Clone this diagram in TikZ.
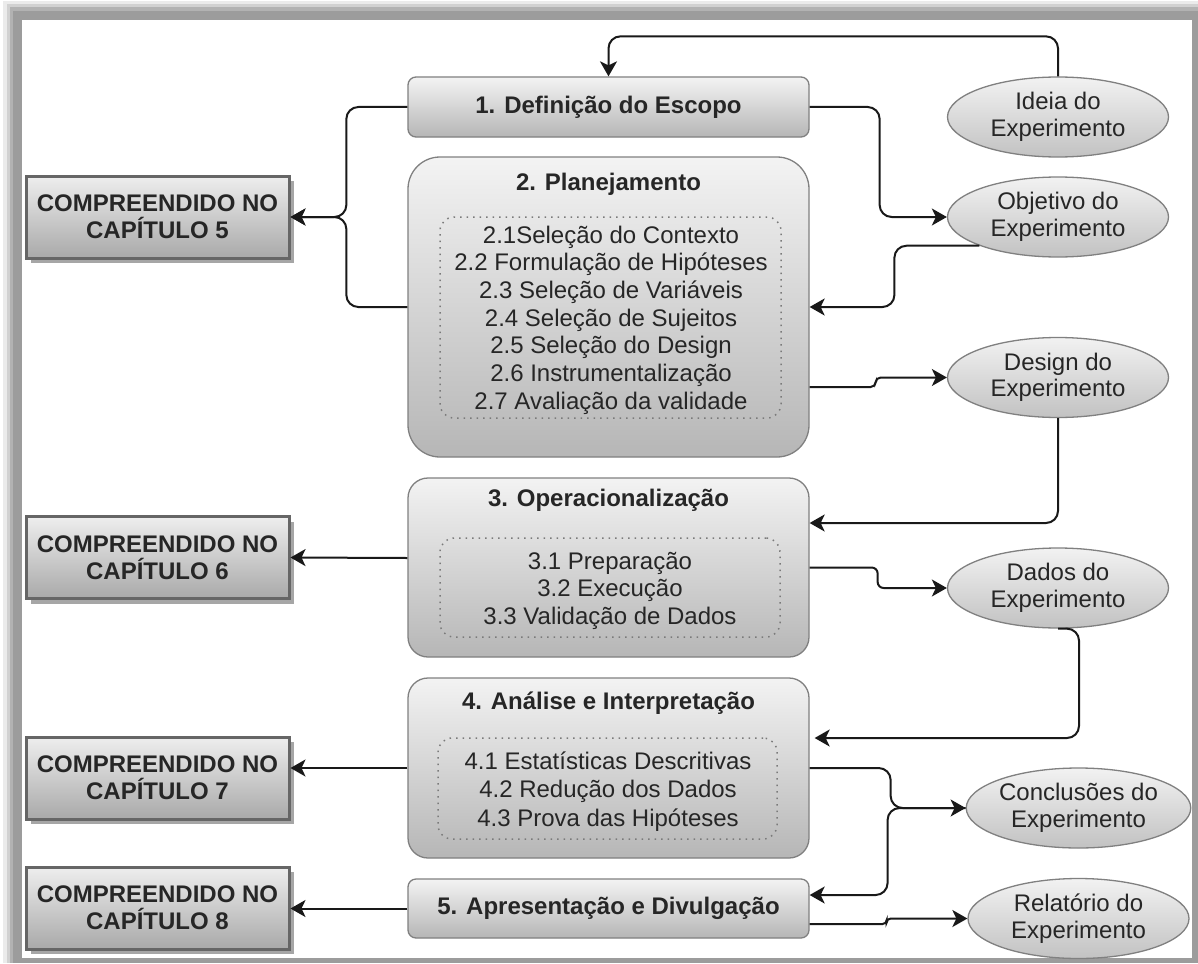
\documentclass[tikz,border=0pt]{standalone}
\usepackage{fontspec}
\setmainfont{Liberation Sans}
\usetikzlibrary{calc,arrows.meta,shapes.geometric,shadows}
\definecolor{ink}{HTML}{262626}
\definecolor{boxtop}{HTML}{F3F3F3}
\definecolor{boxbot}{HTML}{B6B6B6}
\definecolor{boxline}{HTML}{808080}
\definecolor{dotline}{HTML}{7A7A7A}
\definecolor{chaptop}{HTML}{EEEEEE}
\definecolor{chapbot}{HTML}{A9A9A9}
\definecolor{chapline}{HTML}{666666}
\definecolor{ovtop}{HTML}{F2F2F2}
\definecolor{ovbot}{HTML}{C2C2C2}
\definecolor{framegray}{HTML}{9C9C9C}
\begin{document}
\begin{tikzpicture}[x=1pt,y=1pt,
  txt/.style={font=\fontsize{24}{27.7}\selectfont, text=ink},
  ttl/.style={font=\fontsize{24}{27.7}\selectfont\bfseries, text=ink},
  stage/.style={rectangle, draw=boxline, line width=1.3pt, top color=boxtop,
    bottom color=boxbot, minimum width=401pt, inner sep=0pt},
  inner/.style={rectangle, draw=dotline, line width=1.5pt,
    dash pattern=on 1.5pt off 5pt, rounded corners=14pt, inner sep=0pt},
  chap/.style={rectangle, draw=chapline, line width=3pt, top color=chaptop,
    bottom color=chapbot, minimum width=263pt, minimum height=82pt,
    inner sep=0pt, align=center,
    font=\fontsize{24}{27}\selectfont\bfseries, text=ink,
    drop shadow={shadow xshift=5pt, shadow yshift=-5pt, opacity=0.35, fill=black}},
  prod/.style={ellipse, draw=boxline, line width=1.3pt, top color=ovtop,
    bottom color=ovbot, minimum width=221pt, minimum height=80pt,
    inner sep=0pt, align=center,
    font=\fontsize{24}{26.5}\selectfont, text=ink},
  conn/.style={line width=2pt, draw=black!90, rounded corners=12pt,
    -{Stealth[length=15pt,width=17pt,inset=4pt]}},
]
\useasboundingbox (0,0) rectangle (1198,-963);

% framed page with soft shadow
\fill[black!8]  (3,-1) rectangle (1198,-963);
\fill[black!18] (7,-4) rectangle (1198,-963);
\fill[black!30] (10,-7) rectangle (1198,-963);
\fill[framegray] (13,-11) rectangle (1198,-963);
\fill[white] (22,-20) rectangle (1192,-958);

% process stages
\node[stage, rounded corners=8pt, minimum height=60pt] (s1) at (608.5,-107)
  {\fontsize{24}{27.7}\selectfont\bfseries\color{ink}1. Definição do Escopo};

\node[stage, rounded corners=32pt, minimum height=300pt] (s2) at (608.5,-307) {};
\node[ttl] (s2t) at (608.5,-184) {2. Planejamento};
\node[inner, minimum width=341pt, minimum height=201pt] (s2f) at (610.5,-317.5) {};
\node[txt, align=center] (s2l) at (611,-320) {2.1Seleção do Contexto\\
  2.2 Formulação de Hipóteses\\2.3 Seleção de Variáveis\\2.4 Seleção de Sujeitos\\
  2.5 Seleção do Design\\2.6 Instrumentalização\\2.7 Avaliação da validade};

\node[stage, rounded corners=20pt, minimum height=179pt] (s3) at (608.5,-567.5) {};
\node[ttl] (s3t) at (608.5,-500) {3. Operacionalização};
\node[inner, minimum width=340pt, minimum height=99pt] (s3f) at (610,-587.5) {};
\node[txt, align=center, font=\fontsize{24}{27.5}\selectfont] (s3l) at (610,-590.5)
  {3.1 Preparação\\3.2 Execução\\3.3 Validação de Dados};

\node[stage, rounded corners=20pt, minimum height=180pt] (s4) at (608.5,-768) {};
\node[ttl] (s4t) at (608.5,-703) {4. Análise e Interpretação};
\node[inner, minimum width=339pt, minimum height=101pt] (s4f) at (607.5,-788.5) {};
\node[txt, align=center, font=\fontsize{24}{28.5}\selectfont] (s4l) at (608,-791.5)
  {4.1 Estatísticas Descritivas\\4.2 Redução dos Dados\\4.3 Prova das Hipóteses};

\node[stage, rounded corners=8pt, minimum height=59pt] (s5) at (608.5,-908.5)
  {\fontsize{24}{27.7}\selectfont\bfseries\color{ink}5. Apresentação e Divulgação};

% chapter references
\node[chap] (c5) at (157.5,-217) {COMPREENDIDO NO\\CAPÍTULO 5};
\node[chap] (c6) at (157.5,-557.5) {COMPREENDIDO NO\\CAPÍTULO 6};
\node[chap] (c7) at (157.5,-778) {COMPREENDIDO NO\\CAPÍTULO 7};
\node[chap] (c8) at (157.5,-908) {COMPREENDIDO NO\\CAPÍTULO 8};

% artefacts
\node[prod] (idea) at (1058,-117) {Ideia do\\Experimento};
\node[prod] (obj)  at (1058,-217) {Objetivo do\\Experimento};
\node[prod] (des)  at (1058,-377.5) {Design do\\Experimento};
\node[prod] (dad)  at (1058,-588) {Dados do\\Experimento};
\node[prod] (con)  at (1078.5,-808) {Conclusões do\\Experimento};
\node[prod] (rel)  at (1078.5,-918.5) {Relatório do\\Experimento};

% links to chapters
\draw[conn] (s1.west) -- ++(-61,0) |- (c5.east);
\draw[conn] (s2.west) -- ++(-61,0) |- (c5.east);
\draw[conn] ($(s3.west)+(0,9.5)$) -- (c6.east);
\draw[conn] (s4.west) -- (s4.west -| c7.east);
\draw[conn] (s5.west) -- (s5.west -| c8.east);

% flow between stages and artefacts
\draw[conn] (idea.north) -- ++(0,40) -| (s1.north);
\draw[conn] (s1.east) -- ++(70,0) |- (obj.west);
\draw[conn] (obj.south west) -- ++(-85,0) |- (s2.east);
\draw[conn, rounded corners=5pt] ($(s2.east)+(0,-80)$) -- ++(66,0) |- (des.west);
\draw[conn] (des.south) |- ($(s3.east)+(0,44.5)$);
\draw[conn, rounded corners=6pt] (s3.east) -- ++(68,0) |- (dad.west);
\draw[conn, shorten >=5pt] (dad.south) -- ++(21,0) |- ($(s4.east)+(0,30)$);
\draw[conn] (s4.east) -- ++(81,0) |- (con.west);
\draw[conn] (con.west) -- ++(-78,0) |- ($(s5.east)+(0,13.5)$);
\draw[conn, rounded corners=4pt] ($(s5.east)+(0,-15.5)$) -- ++(77,0) |- (rel.west);
\end{tikzpicture}
\end{document}
